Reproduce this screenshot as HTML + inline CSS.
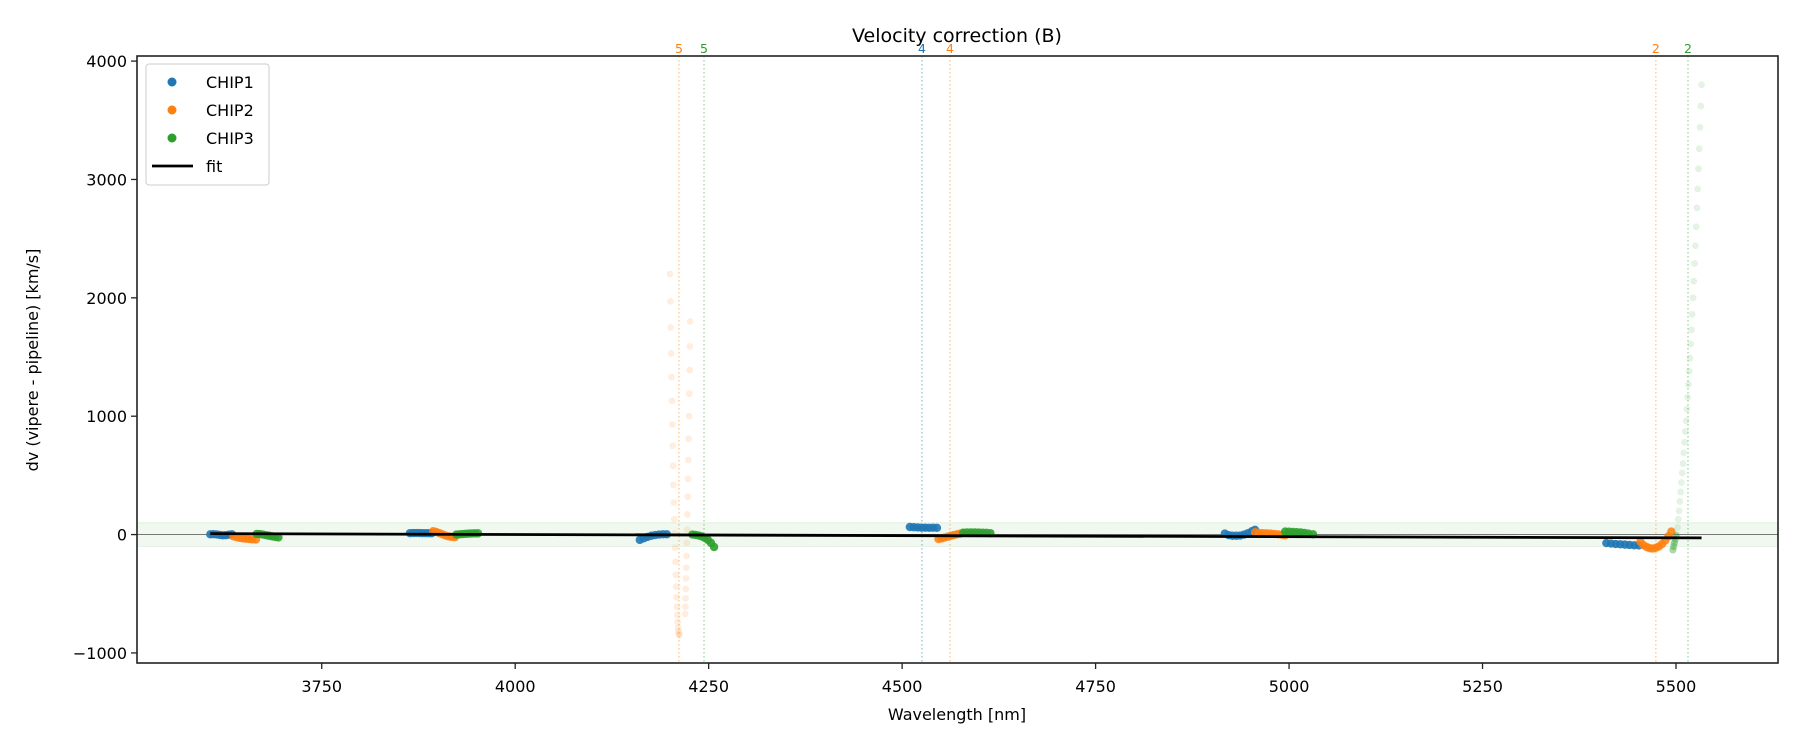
<!DOCTYPE html>
<html><head><meta charset="utf-8">
<style>
html,body{margin:0;padding:0;background:#fff;}
svg{display:block;font-family:"DejaVu Sans","Liberation Sans",sans-serif;}
</style></head>
<body>
<svg id="chart" width="1800" height="750" viewBox="0 0 1800 750" xmlns="http://www.w3.org/2000/svg">
<rect x="0" y="0" width="1800" height="750" fill="#fff"/>
<g id="plot"></g>
</svg>
<script>
// ---- data ----
const xTicks = [3750, 4000, 4250, 4500, 4750, 5000, 5250, 5500];
const yTicks = [-1000, 0, 1000, 2000, 3000, 4000];
const chip1X = [3606,3610,3614,3618,3622,3626,3630,3634, 3864,3868,3872,3876,3880,3884,3888,3892, 4161,4166,4171,4176,4181,4186,4191,4196, 4510,4515,4520,4525,4530,4535,4540,4545, 4917,4922,4927,4932,4937,4942,4947,4952,4956, 5410,5416,5422,5428,5434,5440,5446,5452];
const chip1Y = [2,3,1,-3,-6,-5,-1,2, 12,13,13,13,12,12,12,11, -45,-32,-20,-10,-4,0,2,2, 64,62,60,58,58,57,58,57, 8,-5,-10,-10,-8,0,12,28,40, -72,-76,-80,-82,-85,-88,-91,-92];
const chip2X = [3636,3640,3644,3648,3652,3656,3660,3665, 3894,3898,3902,3906,3910,3914,3918,3922, 4547,4551,4555,4559,4563,4567,4571,4575,4579, 4956,4961,4966,4971,4976,4981,4986,4991,4995, 5454,5458,5462,5466,5470,5474,5478,5482,5486,5490,5494];
const chip2Y = [-15,-22,-28,-32,-35,-38,-40,-42, 28,22,12,2,-8,-15,-20,-22, -38,-32,-25,-18,-10,-4,2,8,14, 20,15,12,10,8,5,2,-2,-6, -60,-90,-105,-115,-118,-112,-100,-80,-50,-15,25];
const chip3X = [3666,3670,3674,3678,3682,3686,3690,3694, 3924,3928,3932,3936,3940,3944,3948,3952, 4229,4233,4237,4241,4245,4249,4253,4257, 4579,4584,4589,4594,4599,4604,4609,4614, 4995,5000,5005,5010,5015,5020,5025,5031];
const chip3Y = [5,4,0,-5,-10,-15,-20,-24, 0,2,4,6,8,9,10,10, 0,-3,-8,-16,-28,-45,-70,-105, 16,18,18,18,17,16,15,12, 25,24,22,20,18,14,8,2];
const chip3EdgeX = [5496,5497,5498,5499,5500];
const chip3EdgeY = [-130,-100,-70,-40,-10];
const chip2OutX = [4200,4200.5,4201,4201.5,4202,4202.5,4203,4203.5,4204,4204.5,4205,4205.5,4206,4206.5,4207,4207.5,4208,4208.5,4209,4209.5,4210,4210.5,4211,4211.5,4212, 4226,4225.7,4225.4,4225,4224.6,4224.2,4223.8,4223.4,4223,4222.6,4222.2,4221.8,4221.4,4221,4220.7,4220.4,4220.2,4220,4219.8];
const chip2OutY = [2200,1970,1750,1530,1330,1130,930,750,580,420,270,130,10,-110,-230,-340,-440,-530,-610,-680,-740,-790,-820,-840,-850, 1800,1590,1390,1190,1000,810,630,470,320,170,40,-70,-180,-280,-370,-460,-540,-610,-670];
const chip3OutX = [5501,5502,5503,5504,5505,5506,5507,5508,5509,5510,5511,5512,5513,5514,5515,5516,5517,5518,5519,5520,5521,5522,5523,5524,5525,5526,5527,5528,5529,5530,5531,5532,5533];
const chip3OutY = [0,60,130,200,280,360,440,520,600,690,780,870,960,1060,1160,1270,1380,1490,1610,1730,1860,2000,2140,2290,2440,2600,2760,2920,3090,3260,3440,3620,3800];
const fitX = [3606, 5533];
const fitY = [8, -28];
const vlineX = [4211.6, 4244, 4525.6, 4561.8, 5474, 5515.5];
const vlineChip = [2, 3, 1, 2, 2, 3];
const vlineLabel = ['5', '5', '4', '4', '2', '2'];
const bandLo = -100, bandHi = 100;

// ---- axes ----
const L=137, R=1778, T=56, B=663;
const X0=3511.3, X1=5631.8, Y0=-1085, Y1=4043;
const sx = v => L + (v - X0) / (X1 - X0) * (R - L);
const sy = v => B - (v - Y0) / (Y1 - Y0) * (B - T);
const colors = {1:'#1f77b4', 2:'#ff7f0e', 3:'#2ca02c'};
const NS='http://www.w3.org/2000/svg';
const g=document.getElementById('plot');
function mk(tag, attrs, parent){const e=document.createElementNS(NS,tag);for(const k in attrs)e.setAttribute(k,attrs[k]);(parent||g).appendChild(e);return e;}

const defs=mk('defs',{});
const cp=mk('clipPath',{id:'clip'},defs);
mk('rect',{x:L,y:T,width:R-L,height:B-T},cp);
const inner=mk('g',{'clip-path':'url(#clip)'});

const band=mk('rect',{x:L,y:sy(bandHi),width:R-L,height:sy(bandLo)-sy(bandHi),fill:'#2ca02c','fill-opacity':0.07,stroke:'#2ca02c','stroke-opacity':0.1,'stroke-width':1},inner);


const zl=mk('line',{x1:L,x2:R,y1:sy(0),y2:sy(0),stroke:'#666','stroke-width':0.9},inner);



for(let i=0;i<vlineX.length;i++){
  const x=sx(vlineX[i]);
  const vl=mk('line',{x1:x,x2:x,y1:T,y2:B,stroke:colors[vlineChip[i]],'stroke-opacity':0.45,'stroke-width':1.3,'stroke-dasharray':'1.5,2.5'},inner);
  
  
  const tl=mk('text',{x:x,y:53,'text-anchor':'middle','font-size':12.5,fill:colors[vlineChip[i]]});
  tl.textContent=vlineLabel[i];
  
  
}

function scatter(xs, ys, chip, op, r, name){
  for(let i=0;i<xs.length;i++){
    const c=mk('circle',{cx:sx(xs[i]),cy:sy(ys[i]),r:r,fill:colors[chip],'fill-opacity':op},inner);
    
    
  }
}
scatter(chip2OutX, chip2OutY, 2, 0.13, 3.4, 'chip2-outlier-point');
scatter(chip3OutX, chip3OutY, 3, 0.13, 3.4, 'chip3-outlier-point');
scatter(chip1X, chip1Y, 1, 0.9, 4.2, 'chip1-point');
scatter(chip2X, chip2Y, 2, 0.85, 4.2, 'chip2-point');
scatter(chip3X, chip3Y, 3, 0.9, 4.2, 'chip3-point');
scatter(chip3EdgeX, chip3EdgeY, 3, 0.4, 3.6, 'chip3-edge-point');

const fit=mk('line',{x1:sx(fitX[0]),y1:sy(fitY[0]),x2:sx(fitX[1]),y2:sy(fitY[1]),stroke:'#000','stroke-width':2.8},inner);



const frame=mk('rect',{x:L,y:T,width:R-L,height:B-T,fill:'none',stroke:'#222','stroke-width':1.6});



for(const v of xTicks){
  const x=sx(v);
  const t=mk('line',{x1:x,x2:x,y1:B,y2:B+6,stroke:'#222','stroke-width':1.3});
  
  
  const tx=mk('text',{x:x,y:692,'text-anchor':'middle','font-size':16,fill:'#000'});
  tx.textContent=v;
  
  
}
for(const v of yTicks){
  const y=sy(v);
  const t=mk('line',{x1:L-6,x2:L,y1:y,y2:y,stroke:'#222','stroke-width':1.3});
  
  
  const tx=mk('text',{x:L-10,y:y+6,'text-anchor':'end','font-size':16,fill:'#000'});
  tx.textContent=(v<0?'\u2212'+Math.abs(v):v);
  
  
}
</script>
<script>
(function(){
const NS='http://www.w3.org/2000/svg';
const svg=document.getElementById('chart');
function mk(tag, attrs){const e=document.createElementNS(NS,tag);for(const k in attrs)e.setAttribute(k,attrs[k]);svg.appendChild(e);return e;}
const title=mk('text',{x:957,y:42,'text-anchor':'middle','font-size':19,fill:'#000'});
title.textContent='Velocity correction (B)';


const xl=mk('text',{x:957,y:720,'text-anchor':'middle','font-size':16,fill:'#000'});
xl.textContent='Wavelength [nm]';


const yl=mk('text',{x:0,y:0,'text-anchor':'middle','font-size':16,fill:'#000',transform:'translate(38,360) rotate(-90)'});
yl.textContent='dv (vipere - pipeline) [km/s]';


const lg=mk('rect',{x:146,y:64,width:123,height:121,rx:3,fill:'#fff','fill-opacity':0.85,stroke:'#ccc','stroke-width':1});


const items=[['CHIP1','#1f77b4'],['CHIP2','#ff7f0e'],['CHIP3','#2ca02c']];
items.forEach((it,i)=>{
  const y=82+i*28;
  const c=mk('circle',{cx:172,cy:y,r:4.5,fill:it[1]});
  
  
  const t=mk('text',{x:206,y:y+6,'font-size':16,fill:'#000'});
  t.textContent=it[0];
  
  
});
const fl=mk('line',{x1:152,x2:193,y1:166,y2:166,stroke:'#000','stroke-width':2.8});


const ft=mk('text',{x:206,y:172,'font-size':16,fill:'#000'});
ft.textContent='fit';


})();
</script>
</body></html>
